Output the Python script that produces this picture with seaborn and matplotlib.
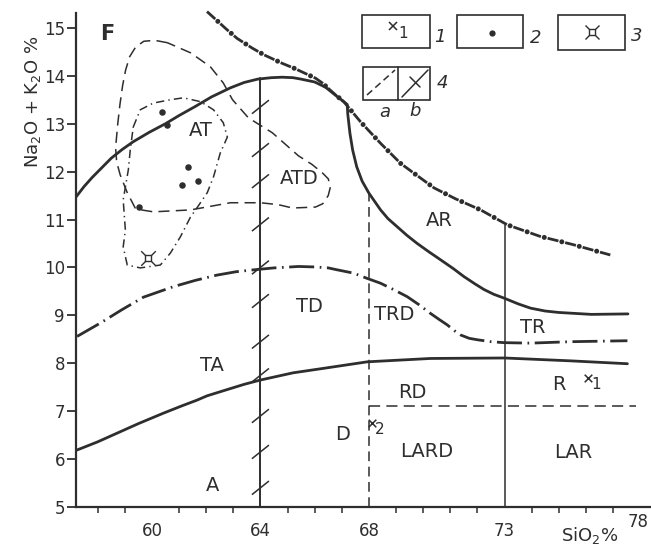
import matplotlib
matplotlib.use("Agg")
import matplotlib.pyplot as plt
import seaborn as sns
from matplotlib.path import Path
from matplotlib.patches import Rectangle
from matplotlib.lines import Line2D
import matplotlib.transforms as mtransforms

# ---------------- data ----------------
upper_solid_x = [57.2, 57.5, 57.8, 58.15, 58.5, 58.9, 59.3, 59.9, 60.5, 61.0, 61.6, 62.2, 62.9,
                 63.4, 63.9, 64.4, 64.8, 65.2, 65.5, 66.0, 66.4, 66.8, 67.07, 67.2,
                 67.22, 67.3, 67.4, 67.55, 67.75, 68.0, 68.43, 68.7, 69.04, 69.4, 69.78,
                 70.2, 70.64, 71.1, 71.5, 71.9, 72.24, 72.6, 72.98, 73.5, 73.96, 74.5,
                 75.0, 76.2, 77.55]
upper_solid_y = [11.47, 11.69, 11.88, 12.08, 12.28, 12.46, 12.62, 12.82, 13.0, 13.17, 13.36, 13.56, 13.75,
                 13.86, 13.93, 13.96, 13.97, 13.96, 13.93, 13.87, 13.76, 13.58, 13.46, 13.4,
                 13.2, 12.8, 12.45, 12.1, 11.8, 11.55, 11.2, 11.02, 10.85, 10.67, 10.50,
                 10.33, 10.16, 9.98, 9.81, 9.66, 9.54, 9.44, 9.36, 9.24, 9.15, 9.09,
                 9.06, 9.02, 9.03]

dotted_x = [62.03, 62.77, 63.14, 63.69, 64.12, 64.8, 65.23, 66.03, 66.28, 66.77, 67.07, 67.69,
            68.43, 69.17, 69.65, 70.4, 71.2, 72.12, 73.1, 74.3, 75.5, 76.9]
dotted_y = [15.34, 14.96, 14.78, 14.58, 14.44, 14.26, 14.16, 13.95, 13.85, 13.60, 13.46, 13.04,
            12.59, 12.17, 11.97, 11.66, 11.43, 11.20, 10.89, 10.65, 10.48, 10.26]

td_x = [57.24, 58.1, 58.9, 59.69, 60.8, 61.6, 62.4, 63.1, 63.75, 64.5, 65.41, 66.0, 66.5, 66.83,
        67.44, 67.94, 68.43, 68.9, 69.41, 69.85, 70.27, 70.6, 70.89, 71.15, 71.38, 71.7, 72.0,
        72.5, 72.98, 73.96, 75.44, 77.53]
td_y = [8.56, 8.84, 9.12, 9.38, 9.60, 9.73, 9.84, 9.91, 9.95, 9.99, 10.02, 10.01, 9.99, 9.95,
        9.88, 9.77, 9.67, 9.54, 9.39, 9.22, 9.04, 8.91, 8.80, 8.68, 8.59, 8.52, 8.49,
        8.45, 8.43, 8.42, 8.45, 8.47]

ta_x = [57.24, 58.0, 58.71, 59.5, 60.43, 61.1, 61.66, 62.03, 62.77, 63.4, 64.0, 65.2, 66.4,
        67.94, 70.27, 73.0, 75.44, 77.53]
ta_y = [6.19, 6.36, 6.54, 6.74, 6.96, 7.11, 7.23, 7.32, 7.45, 7.56, 7.65, 7.80, 7.90,
        8.03, 8.10, 8.11, 8.05, 7.99]

v64_x, v64_y = [64, 64], [5, 13.96]
v73_x, v73_y = [73, 73], [5, 10.89]
v68_x, v68_y = [68, 68], [5, 11.56]
h71_x, h71_y = [68, 77.85], [7.11, 7.11]

loop_a_x = [60.57, 60.1, 59.7, 59.4, 59.18, 59.03, 58.92, 58.82, 58.74, 58.66, 58.7, 58.83, 59.09,
            59.4, 60.05, 61.42, 62.89, 64.0, 64.66, 65.18, 66.03, 66.3, 66.5, 66.58, 66.5,
            66.29, 65.9, 65.4, 64.44, 63.56, 62.97, 62.63, 62.15, 61.42, 60.57]
loop_a_y = [14.69, 14.74, 14.72, 14.6, 14.4, 14.12, 13.8, 13.4, 13.0, 12.5, 12.2, 11.93, 11.56,
            11.22, 11.16, 11.20, 11.35, 11.35, 11.31, 11.24, 11.26, 11.33, 11.5, 11.68, 11.85,
            11.97, 12.15, 12.33, 12.81, 13.12, 13.50, 13.85, 14.19, 14.48, 14.69]

loop_b_x = [59.31, 59.57, 60.05, 60.68, 61.16, 61.79, 62.27, 62.63, 62.78, 62.52, 62.27, 62.04,
            61.68, 61.42, 61.05, 60.68, 60.31, 59.57, 59.09, 58.94, 59.02, 58.94, 59.13, 59.20, 59.31]
loop_b_y = [12.93, 13.29, 13.43, 13.50, 13.54, 13.46, 13.29, 13.02, 12.72, 12.39, 11.89, 11.56,
            11.26, 11.05, 10.64, 10.30, 10.05, 9.99, 10.05, 10.43, 10.78, 11.41, 12.04, 12.45, 12.93]

slash_y = [5.4, 6.15, 6.9, 7.75, 8.45, 9.3, 10.0, 10.9, 11.8, 12.45, 13.35]

dots_x = [60.37, 60.56, 61.34, 61.12, 61.68, 59.54]
dots_y = [13.25, 12.97, 12.10, 11.72, 11.81, 11.26]

star_x, star_y = [59.87], [10.20]

xpt_x = [76.08, 68.1]
xpt_y = [7.70, 6.76]
xpt_lab = ["1", "2"]

region_labels = ["F", "AT", "ATD", "AR", "TD", "TRD", "TR", "TA", "RD", "R", "D", "LARD", "LAR", "A"]
region_x = [58.35, 61.79, 65.44, 70.6, 65.8, 68.94, 74.04, 62.23, 69.61, 75.0, 67.03, 70.13, 75.55, 62.23]
region_y = [14.87, 12.85, 11.85, 10.97, 9.18, 9.01, 8.74, 7.96, 7.40, 7.55, 6.52, 6.15, 6.13, 5.44]

xtick_vals = [60, 64, 68, 73]
xtick_labels = ["60", "64", "68", "73"]
xminor_vals = [58, 59, 61, 62, 63, 65, 66, 67, 69, 70, 71, 72, 74, 75, 76, 77]
ytick_vals = [5, 6, 7, 8, 9, 10, 11, 12, 13, 14, 15]

# ---------------- style ----------------
sns.set_theme(style="white")
plt.rcParams['font.family'] = ['DejaVu Sans']
plt.rcParams['lines.scale_dashes'] = False
plt.rcParams['mathtext.default'] = 'regular'

INK = "#2e2e2e"
W, H = 651, 547

fig = plt.figure(figsize=(W / 100, H / 100), dpi=100)
fig.patch.set_facecolor("white")
ax = fig.add_axes([76 / W, 1 - 507 / H, (651 - 76) / W, (507 - 13) / H])
ax.set_facecolor("white")


def curve(x, y, **kw):
    sns.lineplot(x=x, y=y, ax=ax, sort=False, estimator=None, color=INK, **kw)


# main boundaries
curve(upper_solid_x, upper_solid_y, linewidth=2.0)
curve(ta_x, ta_y, linewidth=2.0)
curve(td_x, td_y, linewidth=2.0, linestyle=(0, (18, 4, 1.2, 4)))
curve(dotted_x, dotted_y, linewidth=2.0, linestyle=(0, (8, 5)), clip_on=False)
curve(dotted_x, dotted_y, linewidth=3.6, linestyle=(2.5, (0.01, 12.99)),
      dash_capstyle="round", clip_on=False)

curve(v64_x, v64_y, linewidth=1.4)
curve(v73_x, v73_y, linewidth=1.1)
curve(v68_x, v68_y, linewidth=1.1, linestyle=(0, (7, 4)))
curve(h71_x, h71_y, linewidth=1.1, linestyle=(0, (8, 4.5)))

# rock fields
curve(loop_a_x, loop_a_y, linewidth=1.1, linestyle=(0, (8, 4.5)))
curve(loop_b_x, loop_b_y, linewidth=1.1, linestyle=(0, (6, 3, 1, 3)))

# hatch marks on the 64 boundary
slash = Path([(-1, -0.8), (1, 0.8)], [Path.MOVETO, Path.LINETO])
sns.scatterplot(x=[64] * len(slash_y), y=slash_y, ax=ax, marker=slash, s=150,
                facecolor="none", edgecolor=INK, linewidth=1.1)

# samples
sns.scatterplot(x=dots_x, y=dots_y, ax=ax, s=22, color=INK, edgecolor=INK, linewidth=0)
sns.scatterplot(x=star_x, y=star_y, ax=ax, marker="x", s=110, color=INK, linewidth=1.0)
sns.scatterplot(x=star_x, y=star_y, ax=ax, marker="s", s=16, facecolor="white",
                edgecolor=INK, linewidth=1.0)
sns.scatterplot(x=xpt_x, y=xpt_y, ax=ax, marker="x", s=30, color=INK, linewidth=1.1)
for xx, yy, lab in zip(xpt_x, xpt_y, xpt_lab):
    ax.annotate(lab, (xx, yy), xytext=(6, -5), textcoords="offset points",
                fontsize=11, color=INK, ha="center", va="center")

# region labels
for lab, xx, yy in zip(region_labels, region_x, region_y):
    kw = dict(fontsize=14, color=INK, ha="center", va="center")
    if lab == "F":
        kw.update(fontsize=15, fontweight="bold")
    ax.text(xx, yy, lab, **kw)

# axes
ax.set_xlim(57.2, 78.4)
ax.set_ylim(5, 15.31)
for s in ["top", "right"]:
    ax.spines[s].set_visible(False)
for s in ["left", "bottom"]:
    ax.spines[s].set_color(INK)
    ax.spines[s].set_linewidth(1.6)
ax.set_xticks(xtick_vals)
ax.set_xticklabels(xtick_labels)
ax.set_xticks(xminor_vals, minor=True)
ax.set_yticks(ytick_vals)
ax.set_yticklabels([str(v) for v in ytick_vals])
ax.tick_params(axis="x", which="major", length=0, pad=11, labelsize=12, labelcolor=INK)
ax.tick_params(axis="x", which="minor", length=4, width=1.1, color=INK, direction="out", bottom=True)
ax.tick_params(axis="y", which="major", length=6.5, width=1.3, color=INK, direction="out",
               pad=1.5, labelsize=12, labelcolor=INK, left=True)
ax.set_xlabel("")
ax.set_ylabel("")

trans = mtransforms.blended_transform_factory(ax.transData, ax.transAxes)
ax.text(77.93, -0.031, "78", transform=trans, fontsize=12, color=INK, ha="center", va="center")

fig.text(33 / W, 1 - 102 / H, "Na$_2$O + K$_2$O %", rotation=90, ha="center", va="center",
         fontsize=13, color=INK)
fig.text(590 / W, 1 - 535 / H, "SiO$_2$%", ha="center", va="center", fontsize=13, color=INK)


# ---------------- legend boxes (figure pixel layout) ----------------
def fpx(x, y):
    return x / W, 1 - y / H


def box(x0, y0, x1, y1):
    fig.add_artist(Rectangle(fpx(x0, y1), (x1 - x0) / W, (y1 - y0) / H, transform=fig.transFigure,
                             fill=False, lw=1.2, ec=INK))


def seg(p, q, **kw):
    (ax0, ay0), (ax1, ay1) = fpx(*p), fpx(*q)
    fig.add_artist(Line2D([ax0, ax1], [ay0, ay1], transform=fig.transFigure, color=INK, **kw))


def sym(p, **kw):
    fx, fy = fpx(*p)
    fig.add_artist(Line2D([fx], [fy], transform=fig.transFigure, linestyle="none", color=INK, **kw))


def lab(p, s, **kw):
    fx, fy = fpx(*p)
    fig.text(fx, fy, s, ha="center", va="center", color=INK, **kw)


box(362, 15, 430, 48)
sym((393, 26), marker="x", markersize=6, markeredgewidth=1.1)
lab((403, 34), "1", fontsize=11)
lab((440, 37), "1", fontsize=13, fontstyle="italic")

box(457, 15, 523, 48)
sym((492, 33), marker="o", markersize=4.5, markeredgewidth=0)
lab((536, 38), "2", fontsize=13, fontstyle="italic")

box(558, 15, 625, 50)
sym((592, 32), marker="x", markersize=10, markeredgewidth=1.0)
sym((592, 32), marker="s", markersize=4, markerfacecolor="white", markeredgewidth=1.0)
lab((637, 36), "3", fontsize=13, fontstyle="italic")

box(363, 67, 430, 100)
seg((398, 67), (398, 100), lw=1.2)
seg((367, 95), (395, 70), lw=1.1, linestyle=(0, (5, 3)))
seg((402, 97), (428, 70), lw=1.1)
seg((410, 77), (420, 87), lw=1.1)
lab((442, 83), "4", fontsize=13, fontstyle="italic")
lab((385, 112), "a", fontsize=13, fontstyle="italic")
lab((415, 111), "b", fontsize=13, fontstyle="italic")

fig.savefig("out.png", dpi=100, facecolor="white")
